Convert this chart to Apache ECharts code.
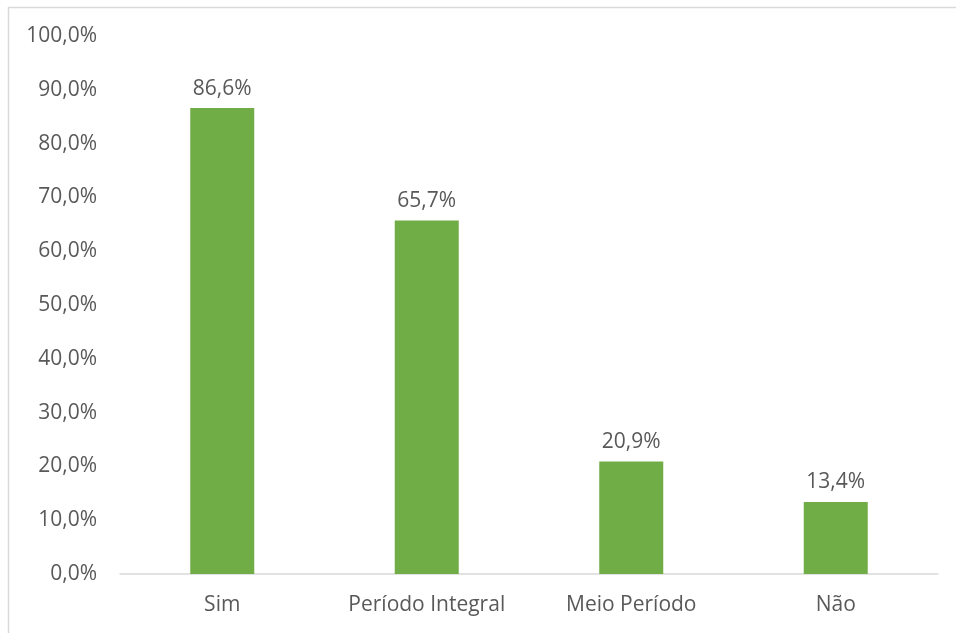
<!DOCTYPE html>
<html>
<head>
<meta charset="utf-8">
<script src="https://cdn.jsdelivr.net/npm/echarts@6/dist/echarts.min.js"></script>
<style>
  html, body { margin: 0; padding: 0; background: #fff; }
  #chart { width: 956px; height: 633px; }
</style>
</head>
<body>
<div id="chart"></div>
<script>
// Categories and percentage values
const categories = ['Sim', 'Período Integral', 'Meio Período', 'Não'];
const values = [86.6, 65.7, 20.9, 13.4];
// Y-axis range and step (percent)
const yMin = 0;
const yMax = 100;
const yStep = 10;

const fmt = v => v.toFixed(1).replace('.', ',') + '%';
const FONT = 'Open Sans';
const TEXT = '#595959';
const SIZE = 21;

const chart = echarts.init(document.getElementById('chart'));
chart.setOption({
  animation: false,
  backgroundColor: '#ffffff',
  graphic: [{
    type: 'rect',
    shape: { x: 8.5, y: 7.5, width: 1000, height: 700 },
    style: { fill: 'none', stroke: '#d9d9d9', lineWidth: 1.5 },
    silent: true,
    z: -1
  }],
  grid: { left: 120, right: 18, top: 36, bottom: 59, containLabel: false },
  xAxis: {
    type: 'category',
    data: categories,
    axisLine: { lineStyle: { color: '#d9d9d9', width: 1.5 } },
    axisTick: { show: false },
    axisLabel: { color: TEXT, fontFamily: FONT, fontSize: SIZE, margin: 21 }
  },
  yAxis: {
    type: 'value',
    min: yMin,
    max: yMax,
    interval: yStep,
    splitLine: { show: false },
    axisLine: { show: false },
    axisTick: { show: false },
    axisLabel: {
      color: TEXT, fontFamily: FONT, fontSize: SIZE, margin: 23,
      formatter: v => fmt(v)
    }
  },
  series: [{
    type: 'bar',
    data: values,
    barWidth: 64,
    itemStyle: { color: '#70AD47' },
    label: {
      show: true,
      position: 'top',
      distance: 9,
      color: TEXT,
      fontFamily: FONT,
      fontSize: SIZE,
      formatter: p => fmt(p.value)
    }
  }]
});
</script>
</body>
</html>
